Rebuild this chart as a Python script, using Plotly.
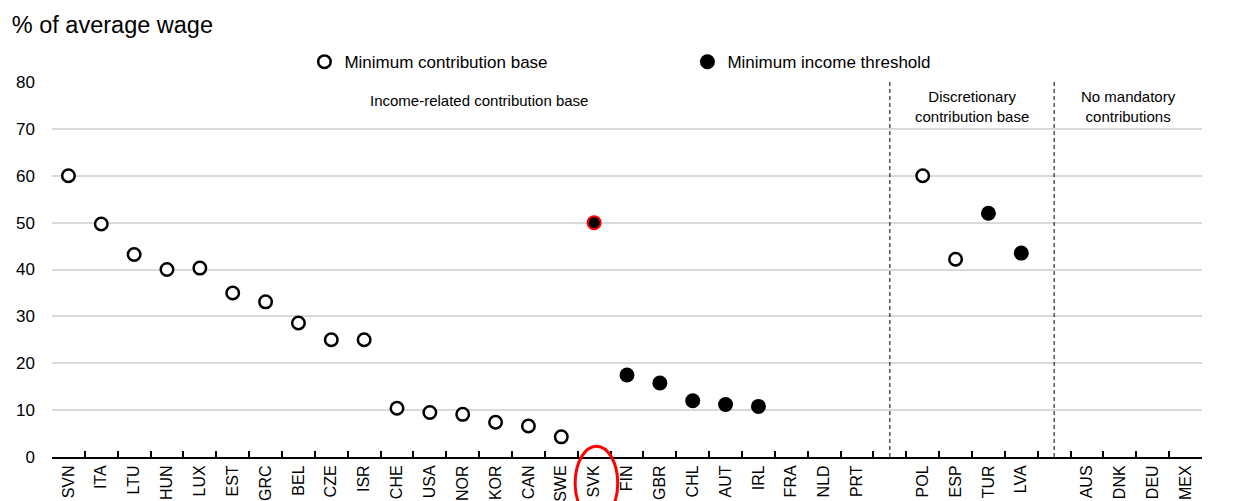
import plotly.graph_objects as go

# Country groups, in plotting order; blank slots separate the groups
income_related = ["SVN", "ITA", "LTU", "HUN", "LUX", "EST", "GRC", "BEL", "CZE", "ISR",
                  "CHE", "USA", "NOR", "KOR", "CAN", "SWE", "SVK", "FIN", "GBR", "CHL",
                  "AUT", "IRL", "FRA", "NLD", "PRT"]
discretionary = ["POL", "ESP", "TUR", "LVA"]
no_mandatory = ["AUS", "DNK", "DEU", "MEX"]
spacers = [" ", "  "]

categories = income_related + [spacers[0]] + discretionary + [spacers[1]] + no_mandatory

# % of average wage (None = not applicable)
min_contribution_base = [60.0, 49.7, 43.2, 40.0, 40.3, 35.0, 33.1, 28.6, 25.0, 25.0,
                         10.4, 9.5, 9.1, 7.4, 6.6, 4.3, None, None, None, None,
                         None, None, None, None, None,
                         None,
                         60.0, 42.2, None, None,
                         None,
                         None, None, None, None]
min_income_threshold = [None, None, None, None, None, None, None, None, None, None,
                        None, None, None, None, None, None, 50.0, 17.5, 15.8, 12.0,
                        11.2, 10.8, None, None, None,
                        None,
                        None, None, 52.0, 43.5,
                        None,
                        None, None, None, None]

highlight = "SVK"
section_labels = ["Income-related contribution base",
                  "Discretionary<br>contribution base",
                  "No mandatory<br>contributions"]

FONT = "Liberation Sans, Arial, sans-serif"
n = len(categories)

fig = go.Figure()
fig.add_trace(go.Scatter(
    x=categories, y=min_contribution_base, mode="markers",
    name="Minimum contribution base",
    marker=dict(symbol="circle", size=12.5, color="white", opacity=1,
                line=dict(color="black", width=2.5)),
    cliponaxis=False,
))
fig.add_trace(go.Scatter(
    x=categories, y=min_income_threshold, mode="markers",
    name="Minimum income threshold",
    marker=dict(symbol="circle", opacity=1,
                size=[13 if c == highlight else 15 for c in categories],
                color="black",
                line=dict(color=["red" if c == highlight else "black" for c in categories],
                          width=[2 if c == highlight else 0 for c in categories])),
    cliponaxis=False,
))

# Dashed separators through the blank slots
for s in spacers:
    fig.add_shape(type="line", xref="x", yref="y",
                  x0=categories.index(s), x1=categories.index(s), y0=0, y1=80,
                  line=dict(color="black", width=1, dash="4px,3px"))

# Red ellipse around the highlighted country label
hx = (categories.index(highlight) + 0.5) / n
fig.add_shape(type="circle", xref="x domain", yref="y domain",
              x0=hx - 0.0165, x1=hx + 0.0205, y0=-0.167, y1=0.029,
              line=dict(color="red", width=3), layer="above")

# Section labels
label_y = [76, 74.8, 74.8]
label_x = [12.5, (categories.index(spacers[0]) + categories.index(spacers[1])) / 2,
           (categories.index(spacers[1]) + n - 0.5) / 2]
for txt, xx, yy in zip(section_labels, label_x, label_y):
    fig.add_annotation(text=txt, x=xx, y=yy, xref="x", yref="y", showarrow=False,
                       font=dict(family=FONT, size=15, color="black"))

fig.update_layout(
    width=1243, height=501,
    margin=dict(l=52, r=41, t=82, b=44),
    paper_bgcolor="white", plot_bgcolor="white",
    font=dict(family=FONT, size=17, color="black"),
    title=dict(text="% of average wage", x=0.0095, xanchor="left",
               y=0.95, yanchor="middle", xref="container", yref="container",
               font=dict(family=FONT, size=23.5, color="black")),
    showlegend=True,
    legend=dict(orientation="h", x=0.2195, xanchor="left", y=1.053, yanchor="middle",
                entrywidth=338, entrywidthmode="pixels",
                font=dict(family=FONT, size=17, color="black"),
                bgcolor="rgba(0,0,0,0)", itemclick=False),
    xaxis=dict(type="category", categoryorder="array", categoryarray=categories,
               range=[-0.5, n - 0.5], tickmode="array", tickvals=categories,
               ticktext=categories, tickson="boundaries", ticks="inside",
               ticklen=6, tickwidth=1.5, tickcolor="black", tickangle=-90,
               showline=True, linecolor="black", linewidth=2, showgrid=False,
               automargin=False, tickfont=dict(family=FONT, size=16, color="black")),
    yaxis=dict(range=[0, 80], dtick=10, tick0=0, showgrid=True, gridcolor="#d9d9d9",
               gridwidth=1.5, zeroline=False, showline=False, ticks="",
               ticklabelstandoff=16, automargin=False,
               tickfont=dict(family=FONT, size=17, color="black")),
    yaxis2=dict(range=[0, 80], dtick=10, tick0=0, overlaying="y", side="right",
                anchor="x", showgrid=False, zeroline=False, showline=False, ticks="",
                ticklabelstandoff=16, automargin=False,
                tickfont=dict(family=FONT, size=17, color="black")),
)

fig.write_html("out.html")
